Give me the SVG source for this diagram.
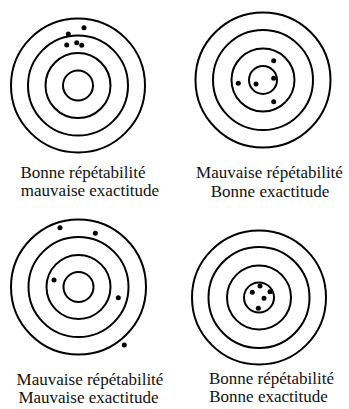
<svg xmlns="http://www.w3.org/2000/svg" width="349" height="409" viewBox="0 0 349 409">
<style>
.ring{fill:none;stroke:#000;stroke-width:2}
.dot{fill:#000}
.lbl{font-family:'Liberation Serif','Times New Roman','DejaVu Serif',serif;font-size:17px;fill:#111;text-anchor:middle}
</style>
<rect width="349" height="409" fill="#fff"/>
<g id="target1">
<circle class="ring" cx="78" cy="85.5" r="67"/>
<circle class="ring" cx="78" cy="85.5" r="50"/>
<circle class="ring" cx="78" cy="85.5" r="32.5"/>
<circle class="ring" cx="78" cy="85.5" r="15"/>
<circle class="dot" cx="84" cy="27.7" r="2.5"/>
<circle class="dot" cx="68.3" cy="34" r="2.5"/>
<circle class="dot" cx="66.7" cy="45" r="2.5"/>
<circle class="dot" cx="76.7" cy="42.7" r="2.5"/>
<circle class="dot" cx="81.7" cy="45.3" r="2.5"/>
<text class="lbl" x="83" y="178" font-family="Liberation Serif, serif">Bonne répétabilité</text>
<text class="lbl" x="90" y="196" font-family="Liberation Serif, serif">mauvaise exactitude</text>
</g>
<g id="target2">
<circle class="ring" cx="263" cy="80" r="67.5"/>
<circle class="ring" cx="263" cy="80" r="50"/>
<circle class="ring" cx="263" cy="80" r="31.5"/>
<circle class="ring" cx="263" cy="80" r="14"/>
<circle class="dot" cx="273.7" cy="60.7" r="2.5"/>
<circle class="dot" cx="238.3" cy="83.3" r="2.5"/>
<circle class="dot" cx="256" cy="84" r="2.5"/>
<circle class="dot" cx="273.7" cy="78.3" r="2.5"/>
<circle class="dot" cx="273.7" cy="101.7" r="2.5"/>
<text class="lbl" x="269.5" y="178" font-family="Liberation Serif, serif">Mauvaise répétabilité</text>
<text class="lbl" x="270" y="197" font-family="Liberation Serif, serif">Bonne exactitude</text>
</g>
<g id="target3">
<circle class="ring" cx="78.5" cy="287" r="67.5"/>
<circle class="ring" cx="78.5" cy="287" r="50"/>
<circle class="ring" cx="78.5" cy="287" r="32"/>
<circle class="ring" cx="78.5" cy="287" r="15"/>
<circle class="dot" cx="60" cy="227.7" r="2.5"/>
<circle class="dot" cx="95.3" cy="233.3" r="2.5"/>
<circle class="dot" cx="54" cy="280" r="2.5"/>
<circle class="dot" cx="118.3" cy="297.7" r="2.5"/>
<circle class="dot" cx="124.3" cy="345" r="2.5"/>
<text class="lbl" x="90" y="385" font-family="Liberation Serif, serif">Mauvaise répétabilité</text>
<text class="lbl" x="88.5" y="403" font-family="Liberation Serif, serif">Mauvaise exactitude</text>
</g>
<g id="target4">
<circle class="ring" cx="259" cy="297.5" r="67"/>
<circle class="ring" cx="259" cy="297.5" r="50.5"/>
<circle class="ring" cx="259" cy="297.5" r="32"/>
<circle class="ring" cx="259" cy="297.5" r="15"/>
<circle class="dot" cx="260" cy="286" r="2.5"/>
<circle class="dot" cx="252.3" cy="292.3" r="2.5"/>
<circle class="dot" cx="270" cy="291.7" r="2.5"/>
<circle class="dot" cx="264" cy="298.3" r="2.5"/>
<circle class="dot" cx="258.3" cy="308.3" r="2.5"/>
<text class="lbl" x="271.5" y="384" font-family="Liberation Serif, serif">Bonne répétabilité</text>
<text class="lbl" x="268.5" y="402" font-family="Liberation Serif, serif">Bonne exactitude</text>
</g>
<g id="connectors"/>
</svg>
